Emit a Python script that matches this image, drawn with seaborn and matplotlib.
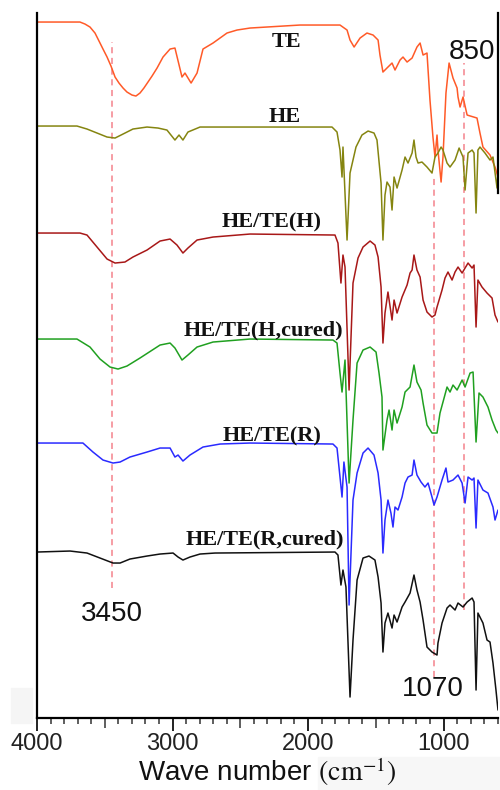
import matplotlib
matplotlib.use("Agg")
import matplotlib.pyplot as plt
import numpy as np
import pandas as pd
import seaborn as sns
from matplotlib.ticker import FixedLocator, MultipleLocator
from matplotlib.patches import Rectangle

# FTIR spectra: wavenumber (cm^-1) and transmittance (a.u., stacked with offsets)
te_wn = [4000, 3683, 3646, 3609, 3572, 3535, 3513, 3483, 3454, 3424, 3395, 3365, 3336, 3299,
         3270, 3240, 3211, 3181, 3151, 3114, 3070, 3018, 2982,
         2930, 2908, 2863, 2819, 2775, 2701, 2598, 2524, 2428, 2059, 1764, 1712, 1690, 1660,
         1616, 1565, 1520, 1483, 1469, 1447, 1410, 1380, 1358, 1321, 1299, 1269, 1232, 1196,
         1173, 1151, 1122, 1100, 1078, 1063, 1048, 1041, 1018, 1004, 982, 959, 930, 900, 893,
         878, 856, 826, 753, 731, 709, 657, 620, 598]
te_t = [696, 696, 694, 691, 685, 675, 669, 661, 652, 641, 635, 630, 626, 623,
        622, 625, 630, 636, 642, 650, 661, 669, 670,
        641, 645, 635, 645, 669, 675, 685, 688, 690, 693, 693, 688, 678, 671,
        680, 685, 683, 678, 663, 646, 651, 655, 648, 658, 661, 656, 660, 671,
        675, 663, 665, 618, 581, 561, 583, 568, 536, 561, 625, 655, 640, 630, 621,
        611, 621, 603, 600, 585, 571, 563, 551, 541]

he_wn = [4000, 3705, 3631, 3557, 3483, 3424, 3365, 3292, 3188, 3107, 3041, 2982, 2952, 2923,
         2886, 2797, 2428, 1823, 1786, 1764, 1749, 1742, 1712, 1690, 1646, 1602, 1557, 1513,
         1491, 1461, 1447, 1432, 1417, 1395, 1380, 1365, 1343, 1306, 1284, 1262, 1232, 1218,
         1203, 1188, 1159, 1122, 1085, 1063, 1041, 1018, 1004, 974, 952, 915, 885, 856, 841,
         819, 789, 775, 760, 746, 731, 694, 657, 635, 605, 598]
he_t = [592, 592, 589, 585, 581, 580, 584, 589, 591, 590, 588, 578, 583, 578,
        586, 591, 591, 591, 586, 568, 541, 571, 478, 545, 571, 583, 587, 585,
        578, 535, 478, 523, 536, 531, 508, 541, 530, 548, 561, 555, 565, 578,
        561, 555, 556, 551, 545, 561, 565, 571, 568, 555, 551, 558, 570, 561, 528,
        565, 568, 565, 505, 568, 571, 565, 558, 561, 530, 545]

h_wn = [4000, 3683, 3631, 3557, 3483, 3424, 3351, 3292, 3188, 3092, 3018, 2967, 2923, 2886,
        2819, 2701, 2428, 1801, 1779, 1757, 1742, 1727, 1697, 1668, 1631, 1594, 1542, 1506,
        1483, 1461, 1447, 1432, 1410, 1380, 1365, 1343, 1306, 1269, 1247, 1232, 1218, 1196,
        1173, 1151, 1122, 1085, 1063, 1048, 1011, 989, 967, 937, 915, 893, 863, 841, 819,
        789, 775, 760, 746, 716, 679, 642, 620, 598]
h_t = [485, 485, 483, 471, 459, 455, 456, 461, 468, 477, 479, 473, 465, 470,
       478, 481, 484, 483, 475, 435, 463, 451, 328, 435, 460, 471, 477, 473,
       461, 431, 375, 405, 426, 398, 418, 405, 421, 433, 445, 448, 463, 448,
       441, 418, 406, 401, 403, 411, 428, 440, 446, 438, 446, 451, 445, 450, 455,
       450, 453, 391, 438, 431, 425, 420, 403, 396]

hc_wn = [4000, 3705, 3609, 3535, 3461, 3402, 3336, 3240, 3092, 3018, 2982, 2930, 2886, 2819,
         2701, 2428, 1816, 1786, 1764, 1749, 1727, 1697, 1668, 1638, 1594, 1542, 1498, 1476,
         1454, 1447, 1417, 1402, 1380, 1365, 1343, 1306, 1284, 1247, 1218, 1196, 1166, 1151,
         1122, 1085, 1048, 1026, 1004, 974, 952, 930, 900, 863, 841, 804, 782, 760, 738,
         709, 672, 642, 613, 598]
hc_t = [379, 379, 371, 359, 351, 349, 352, 360, 373, 375, 370, 358, 363, 371,
        376, 379, 378, 375, 345, 326, 358, 235, 298, 355, 368, 371, 366, 345,
        321, 268, 298, 308, 288, 308, 295, 311, 326, 331, 353, 336, 328, 315,
        293, 285, 285, 305, 316, 331, 326, 333, 328, 338, 331, 345, 346, 276, 325,
        321, 311, 298, 288, 285]

r_wn = [4000, 3661, 3587, 3513, 3439, 3387, 3314, 3188, 3092, 3018, 2982, 2959, 2923, 2871,
        2775, 2649, 2428, 1816, 1786, 1764, 1749, 1735, 1712, 1697, 1668, 1638, 1594, 1557,
        1513, 1483, 1461, 1447, 1432, 1410, 1388, 1373, 1358, 1336, 1306, 1284, 1262, 1232,
        1218, 1196, 1166, 1137, 1114, 1085, 1070, 1048, 1011, 982, 967, 930, 893, 863, 841,
        819, 789, 775, 760, 746, 709, 672, 635, 620, 598]
r_t = [275, 275, 266, 258, 255, 256, 261, 266, 270, 270, 261, 263, 257, 263,
       271, 274, 275, 274, 270, 241, 221, 256, 231, 113, 218, 245, 265, 270,
       263, 245, 218, 165, 198, 218, 205, 191, 211, 208, 221, 235, 241, 243,
       258, 243, 236, 231, 235, 221, 213, 221, 238, 250, 236, 238, 243, 235, 215,
       241, 238, 240, 190, 238, 228, 225, 211, 198, 208]

rc_wn = [4000, 3756, 3631, 3535, 3439, 3387, 3314, 3188, 3092, 2996, 2959, 2923, 2871, 2797,
         2686, 1801, 1779, 1757, 1742, 1720, 1690, 1668, 1638, 1594, 1550, 1506, 1483, 1461,
         1447, 1432, 1410, 1380, 1365, 1343, 1306, 1284, 1247, 1218, 1196, 1173, 1151, 1122,
         1085, 1048, 1041, 1011, 974, 952, 915, 893, 856, 826, 789, 775, 760, 746, 709,
         679, 657, 635, 613, 598]
rc_t = [166, 167, 165, 160, 155, 155, 159, 162, 164, 165, 161, 158, 161, 164,
        165, 166, 163, 133, 148, 131, 21, 78, 138, 160, 162, 158, 141, 115,
        66, 95, 105, 90, 103, 96, 111, 116, 125, 143, 128, 116, 98, 71,
        66, 63, 75, 95, 110, 113, 108, 115, 111, 116, 120, 116, 28, 105, 95,
        78, 76, 55, 28, 8]

samples = ["TE", "HE", "HE/TE(H)", "HE/TE(H,cured)", "HE/TE(R)", "HE/TE(R,cured)"]
colors = ["#ff5a28", "#858510", "#a81818", "#20a020", "#2a2aff", "#111111"]

# marker wavenumbers and their dashed-guide spans (transmittance units)
marker_wn = [3450, 1070, 850]
marker_lo = [130, 41, 108]
marker_hi = [676, 543, 655]

frames = []
for name, wn, t in zip(samples,
                       [te_wn, he_wn, h_wn, hc_wn, r_wn, rc_wn],
                       [te_t, he_t, h_t, hc_t, r_t, rc_t]):
    frames.append(pd.DataFrame({"wavenumber": wn, "T": t, "sample": name}))
df = pd.concat(frames, ignore_index=True)

sns.set_theme(style="white")
plt.rcParams["font.family"] = ["Liberation Sans", "DejaVu Sans"]
plt.rcParams["mathtext.fontset"] = "stix"

fig = plt.figure(figsize=(5, 7.9), dpi=100)
fig.patches.append(Rectangle((11 / 500, 67 / 790), 21 / 500, 35 / 790,
                             transform=fig.transFigure, color="#f5f5f5", zorder=-5))
fig.patches.append(Rectangle((318 / 500, 0), 182 / 500, 33 / 790,
                             transform=fig.transFigure, color="#f7f7f7", zorder=-5))
ax = fig.add_axes([0.074, 0.0911, 0.922, 0.8924])
ax.set_facecolor("none")

# dashed guides
ax.vlines(marker_wn, marker_lo, marker_hi, colors="#f4828c", linestyles=(0, (4, 3)),
          linewidth=1.1, zorder=1)

sns.lineplot(data=df, x="wavenumber", y="T", hue="sample", hue_order=samples,
             palette=dict(zip(samples, colors)), estimator=None, sort=False,
             linewidth=1.1, legend=False, ax=ax, zorder=2)

ax.set_xlim(4000, 598)
ax.set_ylim(0, 705)
ax.set_yticks([])
ax.set_ylabel("")

ax.xaxis.set_major_locator(FixedLocator([4000, 3000, 2000, 1000]))
ax.xaxis.set_minor_locator(MultipleLocator(100))
ax.tick_params(axis="x", which="major", direction="out", length=9, width=1.3,
               color="#111111", labelsize=17, pad=2, labelcolor="#222222", bottom=True)
ax.tick_params(axis="x", which="minor", direction="out", length=4.5, width=1.1,
               color="#333333", bottom=True)
minor_locs = ax.xaxis.get_minorticklocs()
for loc, tick in zip(minor_locs, ax.xaxis.get_minor_ticks(len(minor_locs))):
    if abs(loc % 500) < 1e-6:
        tick.tick1line.set_markersize(7)

for side in ["left", "bottom", "right"]:
    ax.spines[side].set_color("black")
    ax.spines[side].set_linewidth(1.6)
ax.spines["top"].set_visible(False)
ax.spines["right"].set_bounds(525, 705)

# axis title: sans words followed by a serif unit in tall parentheses
ax.set_xlabel(r"Wave number $\left(\mathrm{cm}^{-1}\right)$", fontsize=20,
              color="#111111", labelpad=0)

# sample names
name_pos = [(2162, 671), (2170, 596), (2266, 491), (2332, 383), (2266, 277), (2317, 174)]
for name, (x, y) in zip(samples, name_pos):
    ax.text(x, y, name, ha="center", va="baseline", fontsize=16, fontweight="bold",
            family=["Liberation Serif", "DejaVu Serif"], color="#111111", zorder=3)

# band annotations
ax.text(790, 666, "850", ha="center", va="center", fontsize=20, color="#111111")
ax.text(3447, 104, "3450", ha="center", va="center", fontsize=20, color="#111111")
ax.text(1078, 29, "1070", ha="center", va="center", fontsize=20, color="#111111")

fig.savefig("out.png", dpi=100)
